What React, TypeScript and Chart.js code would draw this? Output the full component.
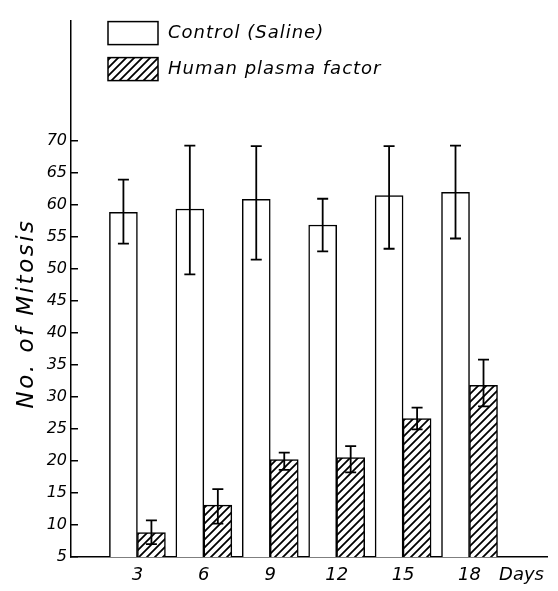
import React, { useEffect, useRef } from "react";
import { Chart, registerables } from "chart.js";

Chart.register(...registerables);

// ---- data ----
const days = [3, 6, 9, 12, 15, 18];
const xTickLabels = ["3", "6", "9", "12", "15", "18", "Days"];
const daysLabelPos = 20.35;

const controlLabel = "Control (Saline)";
const controlValues = [58.8, 59.3, 60.8, 56.8, 61.4, 61.9];
const controlErrLow = [53.9, 49.1, 51.4, 52.7, 53.1, 54.7];
const controlErrHigh = [63.9, 69.2, 69.1, 60.9, 69.1, 69.2];

const plasmaLabel = "Human plasma factor";
const plasmaValues = [8.8, 13.1, 20.2, 20.5, 26.6, 31.8];
const plasmaErrLow = [7.0, 10.2, 18.6, 18.2, 24.9, 28.5];
const plasmaErrHigh = [10.7, 15.6, 21.3, 22.3, 28.3, 35.8];

const yTicks = [5, 10, 15, 20, 25, 30, 35, 40, 45, 50, 55, 60, 65, 70];
const yTitle = "No. of Mitosis";

const errLow = [controlErrLow, plasmaErrLow];
const errHigh = [controlErrHigh, plasmaErrHigh];

const FONT = '"DejaVu Sans", sans-serif';

function makeHatch(): CanvasPattern | string {
  const size = 8;
  const c = document.createElement("canvas");
  c.width = size;
  c.height = size;
  const g = c.getContext("2d");
  if (!g) return "#fff";
  g.fillStyle = "#fff";
  g.fillRect(0, 0, size, size);
  g.strokeStyle = "#000";
  g.lineWidth = 1.8;
  g.beginPath();
  g.moveTo(0, size);
  g.lineTo(size, 0);
  g.moveTo(-2, 2);
  g.lineTo(2, -2);
  g.moveTo(size - 2, size + 2);
  g.lineTo(size + 2, size - 2);
  g.stroke();
  const p = g.createPattern(c, "repeat");
  return p || "#fff";
}

const errorBarPlugin = {
  id: "errorBars",
  afterDatasetsDraw(chart: any) {
    const ctx = chart.ctx;
    const yScale = chart.scales.y;
    ctx.save();
    ctx.strokeStyle = "#000";
    ctx.lineWidth = 1.8;
    chart.data.datasets.forEach((_ds: any, di: number) => {
      const meta = chart.getDatasetMeta(di);
      meta.data.forEach((bar: any, i: number) => {
        const x = bar.x;
        const yl = yScale.getPixelForValue(errLow[di][i]);
        const yh = yScale.getPixelForValue(errHigh[di][i]);
        const cap = 5.5;
        ctx.beginPath();
        ctx.moveTo(x, yl);
        ctx.lineTo(x, yh);
        ctx.moveTo(x - cap, yl);
        ctx.lineTo(x + cap, yl);
        ctx.moveTo(x - cap, yh);
        ctx.lineTo(x + cap, yh);
        ctx.stroke();
      });
    });
    ctx.restore();
  },
};

const legendAndTitlePlugin = {
  id: "boxLegend",
  afterDraw(chart: any) {
    const ctx = chart.ctx;
    const area = chart.chartArea;
    const yScale = chart.scales.y;
    ctx.save();
    // legend
    const bx = area.left + 37;
    const boxW = 50;
    const boxH = 23;
    const pitch = 36;
    chart.data.datasets.forEach((ds: any, i: number) => {
      const by = area.top + 1 + i * pitch;
      ctx.fillStyle = ds.backgroundColor;
      ctx.fillRect(bx, by, boxW, boxH);
      ctx.strokeStyle = "#000";
      ctx.lineWidth = 1.5;
      ctx.strokeRect(bx, by, boxW, boxH);
      ctx.fillStyle = "#000";
      ctx.font = `italic 18px ${FONT}`;
      (ctx as any).letterSpacing = "1px";
      ctx.textAlign = "left";
      ctx.textBaseline = "middle";
      ctx.fillText(ds.label, bx + boxW + 10, by + boxH / 2);
    });
    // y axis title
    (ctx as any).letterSpacing = "2.5px";
    ctx.font = `italic 23px ${FONT}`;
    ctx.textAlign = "center";
    ctx.textBaseline = "middle";
    ctx.translate(27, yScale.getPixelForValue(43));
    ctx.rotate(-Math.PI / 2);
    ctx.fillText(yTitle, 0, 0);
    ctx.restore();
  },
};

export default function App() {
  const ref = useRef<HTMLCanvasElement | null>(null);

  useEffect(() => {
    if (!ref.current) return;
    const hatch = makeHatch();
    const chart = new Chart(ref.current, {
      type: "bar",
      data: {
        datasets: [
          {
            label: controlLabel,
            data: days.map((d, i) => ({ x: d, y: controlValues[i] })),
            backgroundColor: "#ffffff",
            borderColor: "#000000",
            borderWidth: 1.5,
          },
          {
            label: plasmaLabel,
            data: days.map((d, i) => ({ x: d, y: plasmaValues[i] })),
            backgroundColor: hatch as any,
            borderColor: "#000000",
            borderWidth: 1.5,
          },
        ],
      },
      options: {
        responsive: false,
        animation: false,
        barThickness: 28,
        layout: { padding: { top: 11, right: 11, left: 0, bottom: 0 } },
        plugins: {
          legend: { display: false },
          tooltip: { enabled: false },
          title: { display: false },
        },
        scales: {
          x: {
            type: "linear",
            min: 0,
            max: 21.5,
            offset: false,
            afterBuildTicks: (s: any) => {
              s.ticks = [...days, daysLabelPos].map((v) => ({ value: v }));
            },
            afterFit: (s: any) => {
              s.height = 34;
            },
            grid: { display: false, drawTicks: false },
            border: { display: true, color: "#000", width: 1.5 },
            ticks: {
              color: "#000",
              padding: 8,
              autoSkip: false,
              maxRotation: 0,
              font: { family: FONT, size: 18, style: "italic" },
              callback: (_v: any, i: number) => xTickLabels[i],
            },
          },
          y: {
            type: "linear",
            min: 5,
            max: 88.7,
            afterBuildTicks: (s: any) => {
              s.ticks = yTicks.map((v) => ({ value: v }));
            },
            afterFit: (s: any) => {
              s.width = 71;
            },
            grid: {
              display: true,
              drawOnChartArea: false,
              drawTicks: true,
              tickLength: -7,
              color: "#000",
              lineWidth: 1.5,
            },
            border: { display: true, color: "#000", width: 1.5 },
            ticks: {
              color: "#000",
              padding: 11,
              autoSkip: false,
              font: { family: FONT, size: 16, style: "italic" },
              callback: (v: any) => String(v),
            },
          },
        },
      } as any,
      plugins: [errorBarPlugin, legendAndTitlePlugin],
    });
    return () => chart.destroy();
  }, []);

  return (
    <div style={{ position: "absolute", left: 0, top: 0, width: 558, height: 591, background: "#fff" }}>
      <canvas ref={ref} width={558} height={591} />
    </div>
  );
}
